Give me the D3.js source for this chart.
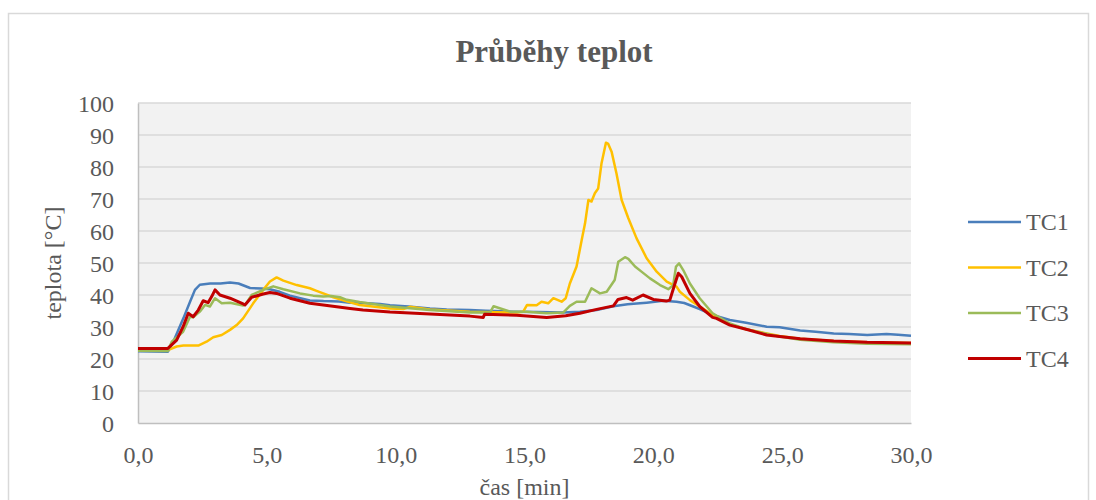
<!DOCTYPE html>
<html>
<head>
<meta charset="utf-8">
<script src="https://cdn.jsdelivr.net/npm/d3@7"></script>
<style>
  body { margin: 0; background: #fff; }
  text { font-family: "Liberation Serif", "Times New Roman", serif; fill: #595959; }
</style>
</head>
<body>
<div id="chart"></div>
<script>
var width = 1096;
var height = 500;

// time [min], temperature [°C]
var tc1 = [[0,22.4],[1.16,22.3],[1.37,25.4],[1.76,32.7],[2.02,37.9],[2.21,41.6],[2.4,43.2],[2.8,43.6],[3.2,43.6],[3.57,43.9],[3.9,43.6],[4.35,42.2],[4.8,42],[5.12,41.8],[5.5,41],[5.9,39.8],[6.3,39],[6.67,38.3],[7.2,38.1],[7.8,38],[8.23,37.6],[8.73,37.5],[9.39,37.2],[9.78,36.8],[10.5,36.4],[11.33,35.8],[11.98,35.5],[12.88,35.3],[13.5,35.1],[14.56,34.8],[15.5,34.7],[16.5,34.5],[17.15,34.8],[17.8,35.3],[18.45,36.5],[19.0,37.1],[19.48,37.4],[19.74,37.6],[20.38,38.2],[20.9,37.9],[21.2,37.5],[21.55,36.4],[21.8,35.6],[22.3,33.8],[22.97,32.2],[23.6,31.3],[24.4,30.1],[24.9,29.9],[25.7,28.9],[26.3,28.5],[27,28],[27.6,27.8],[28.3,27.5],[29.05,27.8],[29.5,27.6],[30,27.3]];

var tc2 = [[0,22.8],[1.16,22.8],[1.5,23.9],[1.76,24.2],[2.34,24.2],[2.66,25.4],[2.92,26.8],[3.25,27.5],[3.57,29.1],[3.83,30.6],[4.08,32.7],[4.47,37.4],[4.86,41.6],[5.12,44.2],[5.38,45.5],[5.64,44.5],[6.16,43.1],[6.67,42.1],[6.93,41.3],[7.19,40.5],[7.58,39.3],[8.1,38],[8.6,36.9],[9.78,35.8],[10.3,35.6],[10.55,36.3],[11.33,35.5],[12.88,34.8],[14.7,34.5],[14.95,34.8],[15.1,36.9],[15.47,36.8],[15.66,37.9],[15.92,37.4],[16.12,39],[16.44,37.9],[16.6,39],[16.76,43.6],[17.02,48.9],[17.22,57.2],[17.35,62.4],[17.48,69.7],[17.6,69.2],[17.73,71.8],[17.86,73.3],[17.99,81.2],[18.16,87.6],[18.25,87.2],[18.38,84.8],[18.57,78],[18.77,69.7],[19.03,64],[19.35,57.7],[19.74,51.5],[20.13,47.3],[20.52,44.2],[20.9,42.6],[21.03,41],[21.42,38.4],[21.8,36.4],[22.3,33.8],[22.97,30.9],[23.6,29.3],[24.9,27.2],[25.7,26.3],[27,25.6],[28.3,25.2],[30,25]];

var tc3 = [[0,22.6],[1.16,22.5],[1.31,25.4],[1.75,28.5],[2.02,33.2],[2.14,33],[2.4,34.8],[2.6,36.9],[2.79,36.4],[2.99,39],[3.25,37.4],[3.57,37.6],[4.08,36.7],[4.2,37.4],[4.41,40],[4.86,41.6],[5.25,42.7],[5.64,41.8],[6.29,40.5],[6.8,39.8],[7.19,39.5],[7.5,39.7],[7.84,39.3],[8.1,38.5],[8.6,37.8],[9.78,36.4],[11.33,35.3],[12.88,34.5],[13.66,34.5],[13.8,36.5],[14.44,34.8],[15.08,34.8],[15.86,34.3],[16.5,34.5],[16.76,36.6],[17.02,37.9],[17.35,37.9],[17.6,42.1],[17.93,40.5],[18.19,41],[18.5,44.7],[18.64,50.4],[18.9,51.8],[19.03,51.3],[19.29,48.9],[19.54,47.3],[19.87,45.2],[20.26,43.1],[20.58,41.8],[20.77,43.1],[20.88,48.9],[21.0,49.9],[21.16,47.8],[21.42,43.6],[21.8,39],[22.3,34.3],[22.97,31.1],[23.6,29.3],[24.9,27],[25.7,26],[27,25.2],[28.3,24.8],[30,24.6]];

var tc4 = [[0,23.3],[1.16,23.3],[1.5,25.9],[1.75,30.1],[1.95,34.3],[2.14,33.2],[2.34,35.3],[2.53,38.2],[2.72,37.6],[2.86,39.5],[2.99,41.6],[3.18,40],[3.57,39],[4.08,37.2],[4.15,36.9],[4.41,39.3],[4.86,40.3],[5.12,40.8],[5.38,40.5],[5.9,39],[6.67,37.4],[7.71,36.3],[8.23,35.8],[8.73,35.3],[9.78,34.7],[11.33,34.1],[12.88,33.4],[13.4,33],[13.45,34],[14.7,33.7],[15.86,33],[16.6,33.5],[17.15,34.3],[17.8,35.5],[18.45,36.6],[18.63,38.6],[18.96,39.2],[19.2,38.4],[19.6,40],[20,38.6],[20.5,38.1],[20.64,38.4],[20.84,43.6],[20.97,46.8],[21.1,45.7],[21.42,40.5],[21.8,36.4],[22.3,33],[22.45,32.7],[22.97,30.6],[23.6,29.3],[24.4,27.5],[24.9,27],[25.7,26.3],[27,25.6],[28.3,25.2],[30,25]];

var seriesNames = ["TC1", "TC2", "TC3", "TC4"];
var seriesColors = ["#4a7ebb", "#ffc000", "#9bbb59", "#c00000"];
var xTicks = [0, 5, 10, 15, 20, 25, 30];
var yTicks = [0, 10, 20, 30, 40, 50, 60, 70, 80, 90, 100];

var allSeries = [tc1, tc2, tc3, tc4];

var xScale = d3.scaleLinear().domain([0, 30]).range([138, 911]);
var yScale = d3.scaleLinear().domain([0, 100]).range([423, 103]);

var svg = d3.select("#chart")
    .append("svg")
    .attr("width", width)
    .attr("height", height);

// chart border
svg.append("rect")
    .attr("x", 8.5).attr("y", 13.5)
    .attr("width", 1080).attr("height", 520)
    .attr("fill", "#fff")
    .attr("stroke", "#d9d9d9")
    .attr("stroke-width", 1.5);

// plot area
svg.append("rect")
    .attr("x", xScale(0)).attr("y", yScale(100))
    .attr("width", xScale(30) - xScale(0))
    .attr("height", yScale(0) - yScale(100))
    .attr("fill", "#f2f2f2");

// gridlines
svg.append("g")
    .selectAll("line")
    .data(yTicks.filter(function(d) { return d > 0; }))
    .enter()
    .append("line")
    .attr("x1", xScale(0)).attr("x2", xScale(30))
    .attr("y1", function(d) { return yScale(d); })
    .attr("y2", function(d) { return yScale(d); })
    .attr("stroke", "#d9d9d9")
    .attr("stroke-width", 1.5);

// axes
var yAxis = d3.axisLeft(yScale).tickValues(yTicks).tickSize(0).tickPadding(24);
var xAxis = d3.axisBottom(xScale).tickValues(xTicks).tickSize(0).tickPadding(24)
    .tickFormat(function(d) { return d.toFixed(1).replace(".", ","); });

var gy = svg.append("g").attr("transform", "translate(" + xScale(0) + ",0)").call(yAxis);
var gx = svg.append("g").attr("transform", "translate(0," + yScale(0) + ")").call(xAxis);

[gx, gy].forEach(function(g) {
    g.select(".domain").attr("stroke", "#bfbfbf").attr("stroke-width", 1.5);
    g.selectAll("text")
        .style("font-family", "'Liberation Serif', 'Times New Roman', serif")
        .style("font-size", "24px")
        .attr("fill", "#595959");
});
gy.selectAll("text").attr("dy", "0.34em");
gx.selectAll("text").attr("y", 40).attr("dy", 0);

// lines
var line = d3.line()
    .x(function(d) { return xScale(d[0]); })
    .y(function(d) { return yScale(d[1]); });

svg.append("g")
    .selectAll("path")
    .data(allSeries)
    .enter()
    .append("path")
    .attr("d", line)
    .attr("fill", "none")
    .attr("stroke", function(d, i) { return seriesColors[i]; })
    .attr("stroke-width", function(d, i) { return i == 3 ? 3 : 2.5; })
    .attr("stroke-linejoin", "round");

// title
svg.append("text")
    .attr("x", 554).attr("y", 62)
    .style("text-anchor", "middle")
    .style("font-size", "31px")
    .style("font-weight", "bold")
    .text("Průběhy teplot");

// axis titles
svg.append("text")
    .attr("transform", "translate(61," + ((yScale(0) + yScale(100)) / 2) + ") rotate(-90)")
    .style("text-anchor", "middle")
    .style("font-size", "24px")
    .text("teplota [°C]");

svg.append("text")
    .attr("x", (xScale(0) + xScale(30)) / 2).attr("y", 495)
    .style("text-anchor", "middle")
    .style("font-size", "24px")
    .text("čas [min]");

// legend
var legend = svg.append("g")
    .selectAll("g")
    .data(seriesNames)
    .enter()
    .append("g")
    .attr("transform", function(d, i) { return "translate(968," + (222 + i * 45.5) + ")"; });

legend.append("line")
    .attr("x1", 0).attr("x2", 53)
    .attr("stroke", function(d, i) { return seriesColors[i]; })
    .attr("stroke-width", function(d, i) { return i == 3 ? 3 : 2.5; });

legend.append("text")
    .attr("x", 58).attr("y", 8)
    .style("font-size", "24px")
    .text(function(d) { return d; });
</script>
</body>
</html>
